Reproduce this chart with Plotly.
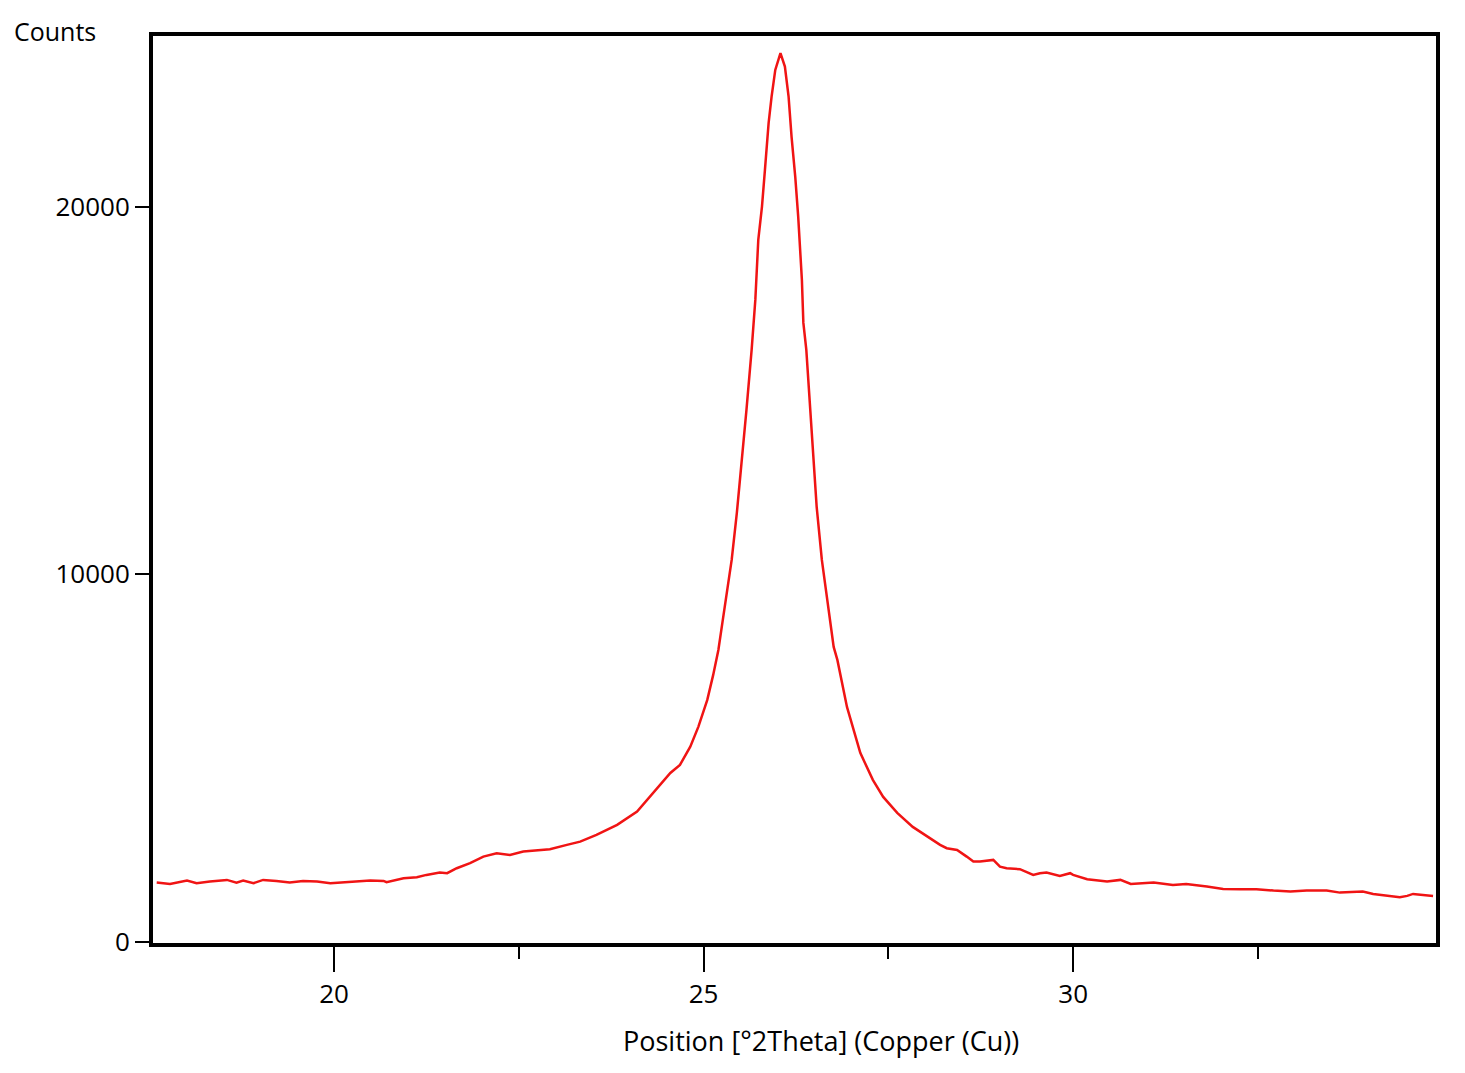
import plotly.graph_objects as go

two_theta = [
    17.60, 17.78, 18.01, 18.14, 18.32, 18.55, 18.68, 18.77, 18.91, 19.04,
    19.22, 19.40, 19.58, 19.77, 19.95, 20.13, 20.31, 20.49, 20.67, 20.71,
    20.94, 21.12, 21.25, 21.43, 21.53, 21.66, 21.84, 22.02, 22.20, 22.38,
    22.56, 22.74, 22.92, 23.15, 23.33, 23.55, 23.83, 24.10, 24.32, 24.55,
    24.68, 24.82, 24.93, 25.05, 25.13, 25.20, 25.26, 25.31, 25.38, 25.45,
    25.52, 25.58, 25.65, 25.70, 25.74, 25.79, 25.83, 25.88, 25.92, 25.97,
    26.04, 26.10, 26.15, 26.19, 26.24, 26.28, 26.33, 26.35, 26.39, 26.44,
    26.49, 26.53, 26.60, 26.67, 26.76, 26.81, 26.94, 27.12, 27.29, 27.43,
    27.62, 27.83, 28.20, 28.29, 28.43, 28.56, 28.65, 28.74, 28.92, 29.01,
    29.10, 29.28, 29.46, 29.55, 29.64, 29.82, 29.96, 30.00, 30.19, 30.46,
    30.64, 30.78, 30.91, 31.09, 31.35, 31.53, 31.81, 32.03, 32.26, 32.48,
    32.71, 32.94, 33.16, 33.43, 33.61, 33.92, 34.06, 34.42, 34.52, 34.60,
    34.87,
]

counts = [
    1614, 1578, 1668, 1597, 1641, 1687, 1614, 1668, 1597, 1687,
    1660, 1614, 1660, 1641, 1597, 1614, 1641, 1668, 1660, 1624,
    1733, 1760, 1823, 1886, 1869, 2005, 2141, 2321, 2414, 2367,
    2457, 2484, 2522, 2639, 2729, 2911, 3184, 3546, 4054, 4598,
    4816, 5314, 5858, 6585, 7265, 7945, 8762, 9496, 10394, 11673,
    13115, 14476, 16108, 17469, 19101, 20008, 21006, 22285, 23001, 23727,
    24182, 23817, 23001, 21912, 20824, 19735, 18013, 16843, 16108, 14476,
    13115, 11836, 10394, 9306, 8027, 7673, 6394, 5143, 4408, 3945,
    3510, 3129, 2639, 2550, 2503, 2321, 2185, 2185, 2231, 2049,
    2005, 1978, 1823, 1869, 1886, 1796, 1869, 1823, 1706, 1641,
    1687, 1578, 1597, 1614, 1551, 1578, 1505, 1442, 1434, 1434,
    1396, 1369, 1396, 1396, 1341, 1369, 1306, 1216, 1252, 1306,
    1252,
]

x_tick_vals = [20, 25, 30]
y_tick_vals = [0, 10000, 20000]
x_range = [17.55, 34.91]
y_range = [-30, 24650]

FONT = "Open Sans"

fig = go.Figure()
fig.add_trace(go.Scatter(
    x=two_theta, y=counts, mode="lines",
    line=dict(color="#f01414", width=2.5),
    showlegend=False, hoverinfo="skip",
))

fig.update_layout(
    width=1457, height=1065,
    margin=dict(l=145, r=29, t=28, b=130),
    paper_bgcolor="white", plot_bgcolor="white",
    font=dict(family=FONT, size=26, color="black"),
    xaxis=dict(
        range=x_range, tickvals=x_tick_vals, ticktext=[str(v) for v in x_tick_vals],
        ticks="outside", ticklen=25, tickwidth=2, tickcolor="black",
        showline=True, linewidth=4, linecolor="black", mirror=True,
        showgrid=False, zeroline=False,
        minor=dict(dtick=2.5, tick0=0, ticks="outside", ticklen=12,
                   tickwidth=2, tickcolor="black", showgrid=False),
        tickfont=dict(family=FONT, size=26, color="black"),
    ),
    yaxis=dict(
        range=y_range, tickvals=y_tick_vals, ticktext=[str(v) for v in y_tick_vals],
        ticks="outside", ticklen=14, tickwidth=2, tickcolor="black",
        showline=True, linewidth=4, linecolor="black", mirror=True,
        showgrid=False, zeroline=False,
        tickfont=dict(family=FONT, size=26, color="black"),
    ),
    annotations=[
        dict(text="Position [°2Theta] (Copper (Cu))", xref="paper", yref="paper",
             x=0.5207, y=-0.107, xanchor="center", yanchor="middle",
             showarrow=False, font=dict(family=FONT, size=27, color="black")),
        dict(text="Counts", xref="paper", yref="paper",
             x=-0.1099, y=1.0055, xanchor="left", yanchor="middle",
             showarrow=False, font=dict(family=FONT, size=25, color="black")),
    ],
)

fig.write_html("out.html")
